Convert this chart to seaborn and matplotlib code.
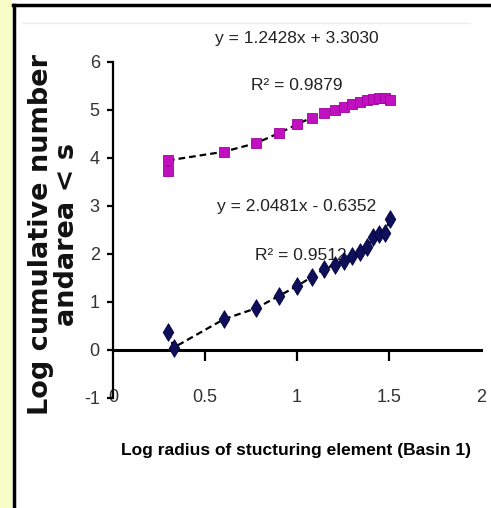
import matplotlib
matplotlib.use("Agg")
import matplotlib.pyplot as plt
import seaborn as sns
import pandas as pd
from matplotlib.patches import Rectangle
from matplotlib.lines import Line2D

# ---- data ----
upper_x = [0.301, 0.301, 0.602, 0.778, 0.903, 1.000, 1.079, 1.146, 1.204,
           1.255, 1.301, 1.342, 1.380, 1.415, 1.447, 1.477, 1.505]
upper_y = [3.72, 3.95, 4.13, 4.31, 4.52, 4.70, 4.84, 4.93, 5.00,
           5.06, 5.12, 5.16, 5.20, 5.23, 5.25, 5.26, 5.20]
lower_x = [0.301, 0.330, 0.602, 0.778, 0.903, 1.000, 1.079, 1.146, 1.204,
           1.255, 1.301, 1.342, 1.380, 1.415, 1.447, 1.477, 1.505]
lower_y = [0.38, 0.05, 0.64, 0.87, 1.13, 1.33, 1.52, 1.68, 1.78,
           1.86, 1.95, 2.05, 2.15, 2.36, 2.42, 2.44, 2.72]
x_ticks = [0, 0.5, 1, 1.5, 2]
x_tick_labels = ["0", "0.5", "1", "1.5", "2"]
y_ticks = [-1, 0, 1, 2, 3, 4, 5, 6]
y_tick_labels = ["-1", "0", "1", "2", "3", "4", "5", "6"]
eq_upper = "y = 1.2428x + 3.3030"
r2_upper = "R² = 0.9879"
eq_lower = "y = 2.0481x - 0.6352"
r2_lower = "R² = 0.9512"
x_label = "Log radius of stucturing element (Basin 1)"
y_label = "Log cumulative number\nandarea < s"

NARROW = ["Liberation Sans", "DejaVu Sans"]

up = pd.DataFrame({"x": upper_x, "y": upper_y})
lo = pd.DataFrame({"x": lower_x, "y": lower_y})

W, H = 491, 508
fig = plt.figure(figsize=(W / 100, H / 100), dpi=100)
fig.patch.set_facecolor("white")

# left yellow strip and frame lines
fig.add_artist(Rectangle((0, 0), 12 / W, 1, transform=fig.transFigure,
                         facecolor="#f8fcc6", edgecolor="none"))
fig.add_artist(Line2D([14 / W, 14 / W], [0, 1 - 5 / H], transform=fig.transFigure,
                      color="black", lw=2.5))
fig.add_artist(Line2D([13 / W, 1], [1 - 5 / H, 1 - 5 / H], transform=fig.transFigure,
                      color="black", lw=2.5))
fig.add_artist(Line2D([22 / W, 470 / W], [1 - 23 / H, 1 - 23 / H], transform=fig.transFigure,
                      color="#eeeeee", lw=1))

left, right, top, bottom = 113, 481, 62, 398
ax = fig.add_axes([left / W, 1 - bottom / H, (right - left) / W, (bottom - top) / H])
ax.set_facecolor("none")

# dashed connecting lines
sns.lineplot(data=up, x="x", y="y", ax=ax, color="black", lw=1.6,
             linestyle=(0, (3, 1.8)), estimator=None, sort=False, zorder=3)
sns.lineplot(data=lo, x="x", y="y", ax=ax, color="black", lw=1.6,
             linestyle=(0, (3, 1.8)), estimator=None, sort=False, zorder=3)
# markers
sns.scatterplot(data=up, x="x", y="y", ax=ax, marker="s", s=45,
                color="#c010c0", edgecolor="#a000a0", linewidth=0.6, zorder=4)
sns.scatterplot(data=lo, x="x", y="y", ax=ax, marker="d", s=80,
                color="#10105a", edgecolor="#000040", linewidth=0.6, zorder=4)

ax.set_xlim(0, 2)
ax.set_ylim(-1, 6)

for s in ["top", "right"]:
    ax.spines[s].set_visible(False)
ax.spines["bottom"].set_position(("data", 0))
ax.spines["bottom"].set_linewidth(2.2)
ax.spines["left"].set_linewidth(1.6)

ax.set_xticks(x_ticks)
ax.set_xticklabels(x_tick_labels, family=NARROW, fontsize=13, color="#333333")
ax.set_yticks(y_ticks)
ax.set_yticklabels(y_tick_labels, family=NARROW, fontsize=13, color="#333333")
ax.tick_params(axis="x", direction="out", length=8, width=1.6, pad=20, colors="black",
               labelcolor="#333333")
ax.tick_params(axis="y", direction="out", length=4.5, width=1.6, pad=5, colors="black",
               labelcolor="#333333")
xt = ax.xaxis.get_major_ticks()
xt[0].tick1line.set_visible(False)
xt[-1].tick1line.set_visible(False)

ax.set_xlabel("")
ax.set_ylabel("")

# equations
ax.text(1.0, 6.5, eq_upper, family=NARROW, fontsize=12.5, ha="center", va="center",
        color="#222222", clip_on=False, zorder=1)
ax.text(1.0, 5.52, r2_upper, family=NARROW, fontsize=12.5, ha="center", va="center",
        color="#222222", clip_on=False, zorder=1)
ax.text(1.0, 2.98, eq_lower, family=NARROW, fontsize=12.5, ha="center", va="center",
        color="#222222", clip_on=False, zorder=1)
ax.text(1.02, 1.96, r2_lower, family=NARROW, fontsize=12.5, ha="center", va="center",
        color="#222222", clip_on=False, zorder=1)

# axis titles
fig.text(296 / W, 1 - 451 / H, x_label, family=NARROW, fontsize=12.5,
         fontweight="bold", ha="center", va="center")
fig.text(54 / W, 1 - 234 / H, y_label, family=["DejaVu Sans"], fontsize=19.5,
         fontweight="bold", ha="center", va="center", rotation=90,
         multialignment="center", linespacing=0.95, color="#111111")

fig.savefig("out.png", dpi=100)
